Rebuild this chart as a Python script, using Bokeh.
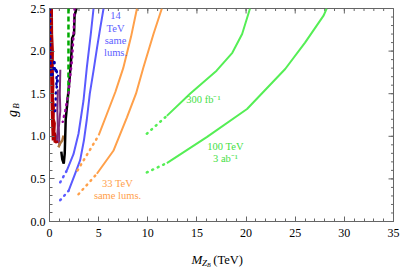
from bokeh.plotting import figure
from bokeh.layouts import row, column
from bokeh.models import LinearAxis, FixedTicker, PrintfTickFormatter, Label, Range1d
from bokeh.embed import file_html
from bokeh.resources import INLINE
import math

# ---------------- data (M_ZB in TeV, g_B) ----------------
# 14 TeV, same lums. (blue)
blue1_dot_m = [1.09, 1.77]
blue1_dot_g = [0.46, 0.60]
blue1_m = [1.77, 2.44, 2.95, 3.46, 3.8, 4.2, 4.48]
blue1_g = [0.60, 0.79, 1.03, 1.42, 1.81, 2.2, 2.5]
blue2_dot_m = [1.09, 1.94]
blue2_dot_g = [0.25, 0.36]
blue2_m = [1.94, 2.6, 3.12, 3.5, 3.8, 4.1, 4.48, 4.85, 5.16, 5.5]
blue2_g = [0.36, 0.56, 0.72, 0.95, 1.2, 1.5, 1.77, 2.05, 2.27, 2.5]

# 33 TeV, same lums. (orange)
orange1_dot_m = [2.85, 5.0]
orange1_dot_g = [0.60, 1.01]
orange1_m = [5.0, 5.8, 6.7, 7.5, 8.3, 8.9]
orange1_g = [1.01, 1.25, 1.52, 1.8, 2.17, 2.5]
orange2_dot_m = [2.95, 4.82]
orange2_dot_g = [0.32, 0.56]
orange2_m = [4.82, 6.5, 7.87, 8.8, 9.56, 10.58, 11.43]
orange2_g = [0.56, 0.83, 1.22, 1.5, 1.81, 2.2, 2.5]

# 100 TeV (green)
green300_dot_m = [9.9, 11.94]
green300_dot_g = [1.03, 1.24]
green300_m = [11.94, 14.3, 17.0, 18.6, 19.6, 20.4]
green300_g = [1.24, 1.50, 1.77, 1.98, 2.2, 2.5]
green3ab_dot_m = [9.9, 11.94]
green3ab_dot_g = [0.576, 0.686]
green3ab_m = [11.94, 16.0, 20.1, 23.98, 26.0, 27.9, 28.2]
green3ab_g = [0.686, 0.99, 1.32, 1.79, 2.1, 2.42, 2.5]

# existing low-mass limits
black_m = [2.75, 2.55, 2.5, 2.3, 2.2, 2.0, 1.77, 1.65, 1.6, 1.55, 1.45, 1.3, 1.2]
black_g = [2.5, 2.42, 2.2, 2.15, 1.9, 1.62, 1.34, 1.2, 1.0, 0.8, 0.68, 0.73, 0.82]
gdash_m = [1.93, 1.93, 1.85]
gdash_g = [2.5, 1.55, 1.42]
pdot_m = [2.55, 2.45, 2.28, 2.1, 1.93, 1.6, 1.35]
pdot_g = [2.5, 2.2, 1.89, 1.7, 1.5, 1.3, 1.17]
purple_m = [1.1, 1.05, 1.1, 0.95, 1.0]
purple_g = [1.78, 1.5, 1.3, 1.1, 0.89]
purple2_m = [0.85, 0.8, 0.85, 0.75]
purple2_g = [1.55, 1.3, 1.1, 0.95]
brown_m = [0.9, 1.1, 1.3, 1.43]
brown_g = [0.87, 0.92, 0.95, 1.01]
red_m = [0.2, 0.22, 0.3, 0.28, 0.35, 0.3, 0.4, 0.38, 0.5, 0.45, 0.6, 0.55, 0.75, 0.8]
red_g = [2.5, 2.2, 2.0, 1.8, 1.6, 1.45, 1.35, 1.2, 1.15, 1.05, 1.0, 0.93, 0.95, 0.92]
red2_m = [0.12, 0.15, 0.2, 0.25, 0.3, 0.35]
red2_g = [2.5, 2.0, 1.6, 1.3, 1.1, 0.95]
dblue_m = [0.05, 0.06, 0.1, 0.15]
dblue_g = [2.5, 2.1, 1.8, 1.72]
dblue2_m = [0.3, 0.5, 0.55, 0.75, 0.7, 0.9, 0.65, 0.6, 0.4]
dblue2_g = [1.72, 1.9, 1.75, 1.8, 1.6, 1.72, 1.5, 1.3, 1.28]

x_ticks = [0, 5, 10, 15, 20, 25, 30, 35]
x_minor = list(range(0, 36))
y_ticks = [0.0, 0.5, 1.0, 1.5, 2.0, 2.5]
y_minor = [i / 10 for i in range(0, 26)]
X_MAX = 35
Y_MAX = 2.5

BLUE = "#5a5aff"
ORANGE = "#ffa04a"
GREEN = "#55ee55"
FRAME = "#666666"
SERIF = "Liberation Serif"

YLAB_W = 22      # width of the strip holding the y-axis title
XLAB_H = 22      # height of the strip holding the x-axis title
MAIN_W = 400 - YLAB_W
MAIN_H = 269 - XLAB_H

p = figure(width=MAIN_W, height=MAIN_H, output_backend="svg", toolbar_location=None,
           x_range=Range1d(0, X_MAX), y_range=Range1d(0, Y_MAX),
           min_border_left=49 - YLAB_W, min_border_right=7, min_border_top=8,
           min_border_bottom=MAIN_H - 221,
           x_axis_location=None, y_axis_location=None)
p.grid.visible = False
p.outline_line_color = FRAME
p.background_fill_color = "white"
p.border_fill_color = "white"

xt = FixedTicker(ticks=x_ticks, minor_ticks=x_minor)
yt = FixedTicker(ticks=y_ticks, minor_ticks=y_minor)

def style(ax, standoff):
    ax.axis_line_color = FRAME
    ax.major_tick_line_color = FRAME
    ax.minor_tick_line_color = FRAME
    ax.major_tick_in = 5
    ax.major_tick_out = 0
    ax.minor_tick_in = 3
    ax.minor_tick_out = 0
    ax.major_label_text_font = SERIF
    ax.major_label_text_color = "black"
    ax.major_label_text_font_size = "12px"
    ax.major_label_standoff = standoff

bx = LinearAxis(ticker=xt); style(bx, 7)
ly = LinearAxis(ticker=yt, formatter=PrintfTickFormatter(format="%.1f")); style(ly, 4)
p.add_layout(bx, "below")
p.add_layout(ly, "left")

# mirrored frame ticks on top and right (half of each dash is clipped by the frame)
p.scatter(x_ticks, [Y_MAX] * len(x_ticks), marker="dash", angle=math.pi / 2, size=10,
          line_color=FRAME, line_width=1)
p.scatter(x_minor, [Y_MAX] * len(x_minor), marker="dash", angle=math.pi / 2, size=5,
          line_color=FRAME, line_width=1)
p.scatter([X_MAX] * len(y_ticks), y_ticks, marker="dash", size=10, line_color=FRAME, line_width=1)
p.scatter([X_MAX] * len(y_minor), y_minor, marker="dash", size=5, line_color=FRAME, line_width=1)

DOT = dict(line_dash="1 5", line_cap="round", line_width=2.5)

# low-mass existing limits
p.line(red2_m, red2_g, line_color="#b00000", line_width=2.5)
p.line(red_m, red_g, line_color="#b00000", line_width=3)
p.line(dblue_m, dblue_g, line_color="#0000b0", **DOT)
p.line(dblue2_m, dblue2_g, line_color="#0000b0", **DOT)
p.line(purple2_m, purple2_g, line_color="#7a2a7a", line_width=2)
p.line(purple_m, purple_g, line_color="#7a2a7a", line_width=2)
p.line(brown_m, brown_g, line_color="#b07840", line_width=2.5)
p.line(black_m, black_g, line_color="black", line_width=2.5)
p.line(gdash_m, gdash_g, line_color="#00aa00", line_width=2.5, line_dash="5 3")
p.line(pdot_m, pdot_g, line_color="#990099", **DOT)

# projections
for m, g, c in [(blue1_m, blue1_g, BLUE), (blue2_m, blue2_g, BLUE),
                (orange1_m, orange1_g, ORANGE), (orange2_m, orange2_g, ORANGE),
                (green300_m, green300_g, GREEN), (green3ab_m, green3ab_g, GREEN)]:
    p.line(m, g, line_color=c, line_width=2)
for m, g, c in [(blue1_dot_m, blue1_dot_g, BLUE), (blue2_dot_m, blue2_dot_g, BLUE),
                (orange1_dot_m, orange1_dot_g, ORANGE), (orange2_dot_m, orange2_dot_g, ORANGE),
                (green300_dot_m, green300_dot_g, GREEN), (green3ab_dot_m, green3ab_dot_g, GREEN)]:
    p.line(m, g, line_color=c, **DOT)

# page-pixel -> data helpers (frame: page x 49..393, y 8..221)
def dx(px):
    return (px - 49) / (344 / X_MAX)

def dy(py):
    return (221 - py) / (213 / Y_MAX)

def lab(fig, text, x, y, color, size="10.5px", style="normal", align="center",
        baseline="middle", angle=0):
    fig.add_layout(Label(x=x, y=y, text=text, text_color=color, text_font=SERIF,
                         text_font_size=size, text_font_style=style, text_align=align,
                         text_baseline=baseline, angle=angle))

for t, py in [("14", 15), ("TeV", 27.5), ("same", 40), ("lums.", 52)]:
    lab(p, t, dx(115), dy(py), "#6060ff")
lab(p, "33 TeV", dx(117), dy(183), ORANGE)
lab(p, "same lums.", dx(117), dy(195), ORANGE)
lab(p, "300 fb\u207b\u00b9", dx(203), dy(99), "#44e044")
lab(p, "100 TeV", dx(225), dy(146), "#44e044")
lab(p, "3 ab\u207b\u00b9", dx(225), dy(157.5), "#44e044")

def strip(w, h, xr, yr):
    f = figure(width=w, height=h, output_backend="svg", toolbar_location=None,
               x_range=xr, y_range=yr, min_border=0,
               x_axis_location=None, y_axis_location=None)
    f.grid.visible = False
    f.outline_line_color = None
    f.background_fill_color = "white"
    f.border_fill_color = "white"
    return f

# y-axis title g_B (rotated); strip coordinates are page pixels
ys = strip(YLAB_W, 269, Range1d(0, YLAB_W), Range1d(269, 0))
lab(ys, "g", 12, 113, "black", size="14px", style="italic", angle=math.pi / 2)
lab(ys, "B", 15.5, 105.5, "black", size="9px", style="italic", angle=math.pi / 2)

# x-axis title M_{Z_B} (TeV)
xs = strip(MAIN_W, XLAB_H, Range1d(YLAB_W, 400), Range1d(269, MAIN_H))
lab(xs, "M", 178, 259, "black", size="13px", style="italic", align="left", baseline="alphabetic")
lab(xs, "Z", 189.5, 262, "black", size="9px", style="italic", align="left", baseline="alphabetic")
lab(xs, "B", 195, 264.5, "black", size="6px", style="italic", align="left", baseline="alphabetic")
lab(xs, "(TeV)", 202, 259, "black", size="12.5px", align="left", baseline="alphabetic")

layout = row(ys, column(p, xs, spacing=0), spacing=0)
open("out.html", "w").write(file_html(layout, INLINE))
